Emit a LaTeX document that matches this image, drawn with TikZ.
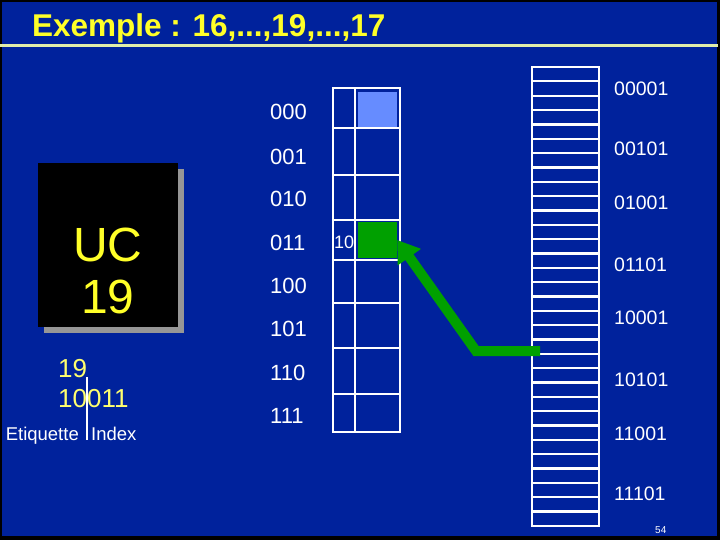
\documentclass[tikz,border=0pt]{standalone}
\usepackage{fontspec}
\setmainfont{Liberation Sans}
\usetikzlibrary{arrows.meta}
\definecolor{bg}{RGB}{0,34,156}
\definecolor{ttl}{RGB}{255,255,40}
\definecolor{ttlline}{RGB}{225,238,170}
\definecolor{lblue}{RGB}{102,140,255}
\definecolor{cgreen}{RGB}{0,160,0}
\definecolor{shadowgrey}{RGB}{150,150,150}
\definecolor{lyellow}{RGB}{255,255,110}
\tikzset{
  tbl/.style={draw=white, line width=2.6pt},
  lbl/.style={text=white, anchor=base west, inner sep=0pt, font=\fontsize{22}{26}\selectfont},
  rlbl/.style={text=white, anchor=base west, inner sep=0pt, font=\fontsize{19.5}{23}\selectfont},
  garrow/.style={draw=cgreen, line width=10pt, line join=miter, -{Triangle[length=21pt,width=27pt]}},
}
\begin{document}
\begin{tikzpicture}[x=1pt,y=-1pt]
\useasboundingbox (0,0) rectangle (720,540);
\fill[black] (0,0) rectangle (720,540);
\fill[bg] (2,2) rectangle (717,536);
% title
\draw[ttlline, line width=2.5pt] (0,45.5) -- (718,45.5);
\node[text=ttl, anchor=base west, inner sep=0pt, font=\bfseries\fontsize{31.5}{36}\selectfont] (title) at (32,37) {Exemple : 16,...,19,...,17};
% UC box
\fill[shadowgrey] (44,169) rectangle (184,333);
\fill[black] (38,163) rectangle (178,327);
\node[text=ttl, anchor=base, inner sep=0pt, font=\fontsize{48}{50}\selectfont] (uc) at (108,261) {UC};
\node[text=ttl, anchor=base, inner sep=0pt, font=\fontsize{48}{50}\selectfont] (uc19) at (108,313) {19};
% address
\node[text=lyellow, anchor=base west, inner sep=0pt, font=\fontsize{26}{30}\selectfont] (n19) at (58,377) {19};
\node[text=lyellow, anchor=base west, inner sep=0pt, font=\fontsize{26}{30}\selectfont] (bits) at (58,407) {10011};
\draw[white, line width=1.5pt] (87,377) -- (87,440);
\node[text=white, anchor=base east, inner sep=0pt, font=\fontsize{18.5}{22}\selectfont] (etiq) at (79,440) {Etiquette};
\node[text=white, anchor=base west, inner sep=0pt, font=\fontsize{18.5}{22}\selectfont] (idx) at (91,440) {Index};
% middle table
\fill[lblue] (358,92) rectangle (397,127);
\node[fill=cgreen, minimum width=39pt, minimum height=36pt, inner sep=0pt] (gcell) at (377.5,240) {};
\draw[tbl] (333,88) rectangle (400,432);
\draw[tbl] (355,88) -- (355,432);
\foreach \yy in {128,175,220,260,303,348,394} \draw[tbl] (333,\yy) -- (400,\yy);
\node[text=white, anchor=base west, inner sep=0pt, font=\fontsize{18}{20}\selectfont] (ten) at (334,248) {10};
\foreach \t/\yy in {000/120,001/165,010/207,011/250,100/293,101/336,110/380,111/423}
  \node[lbl] (m\t) at (270,\yy) {\t};
% right table
\draw[tbl] (532,67) rectangle (599,526);
\foreach \k in {1,...,31} \draw[draw=white, line width=2.3pt] (532,{67+\k*14.34}) -- (599,{67+\k*14.34});
\foreach \t/\yy in {00001/96,00101/156,01001/210,01101/271,10001/324,10101/386,11001/440,11101/500}
  \node[rlbl] (r\t) at (614,\yy) {\t};
\node[text=white, anchor=base west, inner sep=0pt, font=\fontsize{10}{12}\selectfont] (pg) at (655,533) {54};
% arrow
\coordinate (astart) at (540,351);
\coordinate (abend) at (476,351);
\draw[garrow] (astart) -- (abend) -- (gcell.east);
\end{tikzpicture}
\end{document}
